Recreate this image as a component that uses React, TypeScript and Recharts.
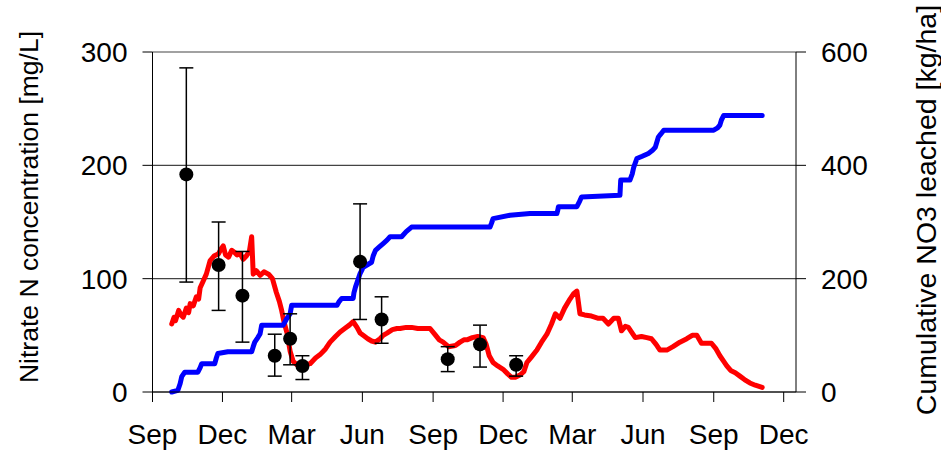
import {
  ComposedChart,
  Line,
  Scatter,
  ErrorBar,
  XAxis,
  YAxis,
  CartesianGrid,
  Label,
} from "recharts";

// x values are days counted from 1 Sep of the first season
const monthTicks = [0, 91, 181, 273, 365, 456, 546, 638, 730, 821];
const monthLabels = ["Sep", "Dec", "Mar", "Jun", "Sep", "Dec", "Mar", "Jun", "Sep", "Dec"];

const concTicks = [0, 100, 200, 300];
const cumTicks = [0, 200, 400, 600];

// simulated nitrate N concentration (mg/L)
const concDays = [
  25, 28, 30, 34, 37, 40, 44, 47, 49, 53, 57, 60, 62, 66, 70, 75, 80, 86, 89, 92, 95, 99, 103,
  107, 110, 114, 118, 122, 126, 129, 131, 135, 140, 145, 151, 156, 161, 165, 168,
  171, 175, 179, 183, 188, 192, 198, 205, 212, 218, 225, 231, 238, 244, 250, 256,
  261, 266, 270, 274, 280, 285, 290, 296, 300, 305, 312, 318, 322, 330, 337, 345,
  353, 361, 367, 373, 378, 385, 394, 400, 405, 409, 416, 423, 430, 434, 438, 443,
  449, 456, 462, 467, 472, 478, 483, 487, 493, 500, 506, 513, 519, 524, 530, 536,
  543, 548, 552, 556, 562, 571, 580, 586, 593, 600, 606, 610, 615, 619, 624, 628,
  636, 643, 649, 655, 660, 669, 677, 686, 695, 702, 708, 714, 721, 727, 733, 738,
  743, 747, 752, 758, 764, 770, 777, 784, 793,
];
const concValues = [
  60, 66, 63, 72, 68, 66, 74, 70, 78, 76, 84, 82, 92, 98, 104, 116, 120, 122, 126, 129, 121, 119, 125,
  123, 121, 122, 117, 120, 124, 137, 104, 107, 103, 106, 104, 100, 88, 80, 72,
  62, 52, 36, 27, 24, 23, 24, 25, 30, 33, 38, 44, 49, 53, 56, 59,
  62, 57, 52, 50, 47, 45, 44, 47, 50, 52, 55, 56, 56, 57, 57, 56,
  56, 56, 51, 46, 44, 40, 41, 44, 46, 46, 48, 49, 48, 42, 32, 26,
  23, 20, 16, 13, 13, 15, 18, 26, 31, 37, 44, 51, 60, 69, 65, 74,
  82, 87, 89, 69, 68, 67, 65, 65, 60, 65, 65, 54, 58, 57, 52, 48,
  49, 48, 47, 42, 37, 37, 40, 44, 47, 50, 50, 43, 43, 43, 38, 32,
  27, 23, 19, 17, 14, 11, 8, 6, 4,
];

// cumulative NO3 leached (kg/ha)
const cumDays = [
  25, 33, 36, 38, 42, 59, 62, 64, 81, 83, 85, 98, 129, 131, 133, 137, 140, 142, 170, 174,
  179, 181, 240, 243, 246, 261, 262, 264, 267, 270, 274, 280, 285, 287, 290, 295,
  300, 305, 309, 324, 330, 337, 439, 441, 443, 465, 491, 526, 527, 528, 552, 555,
  558, 608, 609, 621, 624, 626, 630, 637, 645, 650, 654, 658, 661, 665, 730, 735,
  738, 740, 743, 793,
];
const cumValues = [
  0, 3, 15, 27, 35, 35, 43, 50, 50, 60, 68, 71, 71, 80, 88, 96, 103, 118, 118, 128,
  138, 153, 153, 160, 165, 165, 175, 185, 197, 209, 220, 225, 229, 240, 250, 256,
  262, 268, 274, 274, 283, 291, 291, 298, 306, 312, 315, 315, 320, 327, 327, 335,
  344, 347, 374, 374, 385, 397, 412, 416, 421, 426, 432, 450, 455, 462, 462, 466,
  471, 480, 488, 488,
];

// measured concentrations with min / max range (mg/L)
const obsDays = [44, 86, 117, 159, 179, 195, 270, 298, 384, 426, 473];
const obsMean = [192, 112, 85, 32, 47, 23, 115, 64, 29, 42, 24];
const obsLow = [97, 72, 44, 14, 24, 11, 64, 43, 18, 22, 14];
const obsHigh = [286, 150, 124, 51, 69, 32, 166, 84, 40, 59, 32];

const concData = concDays.map((day, i) => ({ day, conc: concValues[i] }));
const cumData = cumDays.map((day, i) => ({ day, cum: cumValues[i] }));
const obsData = obsDays.map((day, i) => ({
  day,
  obs: obsMean[i],
  err: [obsMean[i] - obsLow[i], obsHigh[i] - obsMean[i]],
}));

const font = "'Liberation Sans', Arial, sans-serif";
const tickStyle = { fill: "#000", fontSize: 28, fontFamily: font };

const Dot = (props: any) => <circle cx={props.cx} cy={props.cy} r={7} fill="#000" />;

export default function App() {
  return (
    <div style={{ width: 941, height: 452, background: "#fff" }}>
      <style>{"body{margin:0}"}</style>
      <ComposedChart
        width={941}
        height={452}
        margin={{ top: 52, right: 0, bottom: 0, left: 0 }}
      >
        <CartesianGrid yAxisId="left" vertical={false} stroke="#444" strokeWidth={1.2} />
        <XAxis
          dataKey="day"
          type="number"
          domain={[0, 837]}
          ticks={monthTicks}
          tickFormatter={(v: number) => monthLabels[monthTicks.indexOf(v)]}
          allowDuplicatedCategory={false}
          height={60}
          tick={tickStyle}
          tickSize={10}
          tickMargin={22}
          stroke="#000"
          interval={0}
        />
        <YAxis
          yAxisId="left"
          domain={[0, 300]}
          ticks={concTicks}
          width={152.5}
          tick={tickStyle}
          tickSize={10}
          tickMargin={15}
          stroke="#000"
          interval={0}
        >
          <Label
            value="Nitrate N concentration [mg/L]"
            angle={-90}
            position="center"
            dx={-48}
            dy={-15}
            style={{ fill: "#000", fontSize: 26.5, fontFamily: font }}
          />
        </YAxis>
        <YAxis
          yAxisId="right"
          orientation="right"
          domain={[0, 600]}
          ticks={cumTicks}
          width={145}
          tick={tickStyle}
          tickSize={10}
          tickMargin={15}
          stroke="#000"
          interval={0}
        >
          <Label
            value="Cumulative NO3 leached [kg/ha]"
            angle={-90}
            position="center"
            dx={57}
            dy={-12}
            style={{ fill: "#000", fontSize: 28.5, fontFamily: font }}
          />
        </YAxis>
        <Line
          yAxisId="left"
          data={concData}
          dataKey="conc"
          type="linear"
          stroke="#ff0000"
          strokeWidth={5}
          dot={false}
          isAnimationActive={false}
          strokeLinejoin="round"
          strokeLinecap="round"
        />
        <Line
          yAxisId="right"
          data={cumData}
          dataKey="cum"
          type="linear"
          stroke="#0000ff"
          strokeWidth={5}
          dot={false}
          isAnimationActive={false}
          strokeLinejoin="round"
          strokeLinecap="round"
        />
        <Scatter
          yAxisId="left"
          data={obsData}
          dataKey="obs"
          shape={Dot}
          isAnimationActive={false}
        >
          <ErrorBar
            dataKey="err"
            direction="y"
            width={7}
            stroke="#000"
            strokeWidth={1.5}
          />
        </Scatter>
      </ComposedChart>
    </div>
  );
}
